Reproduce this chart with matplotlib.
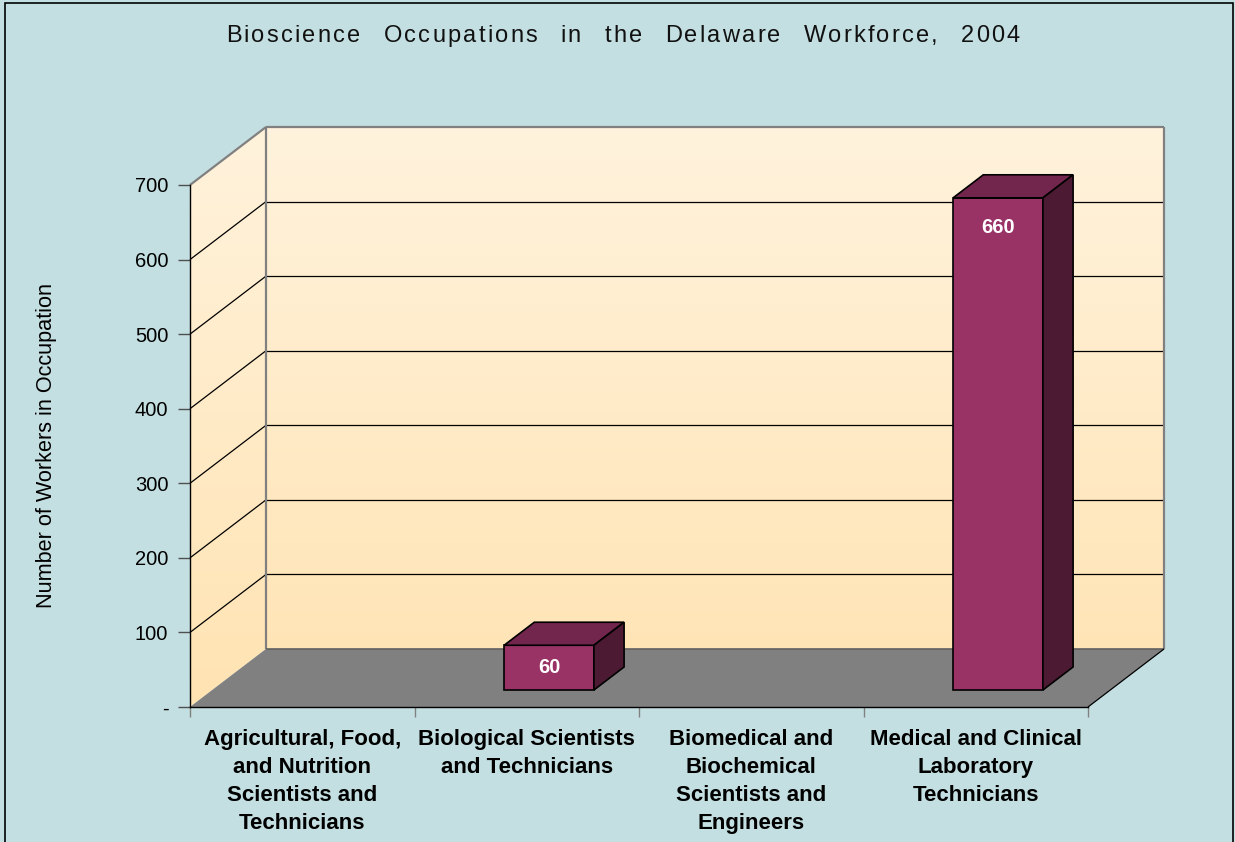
import numpy as np
import matplotlib
matplotlib.use("Agg")
import matplotlib.pyplot as plt
from matplotlib.font_manager import FontProperties
from matplotlib.patches import Polygon, Rectangle
from matplotlib.transforms import IdentityTransform, ScaledTranslation

# data
categories = [
    "Agricultural, Food,\nand Nutrition\nScientists and\nTechnicians",
    "Biological Scientists\nand Technicians",
    "Biomedical and\nBiochemical\nScientists and\nEngineers",
    "Medical and Clinical\nLaboratory\nTechnicians",
]
workers = [0, 60, 0, 660]
yticks = [0, 100, 200, 300, 400, 500, 600, 700]
ytick_labels = ["-", "100", "200", "300", "400", "500", "600", "700"]

title = "Bioscience Occupations in the Delaware Workforce, 2004"
ylabel = "Number of Workers in Occupation"

# styling
BG = "#C4DFE1"
WALL_TOP = np.array([255, 243, 221]) / 255
WALL_BOT = np.array([255, 227, 178]) / 255
FLOOR = "#808080"
EDGE_GRAY = "#808080"
BAR_FRONT = "#993366"
BAR_TOP = "#73264D"
BAR_SIDE = "#4D1A33"
DX, DY = 76, 58          # depth offset of the back wall in pixels
D0, D1 = 0.293, 0.69     # depth range of the bars
BW = 0.4                 # bar width (fraction of a category)
W, H = 1235, 842

plt.rcParams["font.family"] = ["Liberation Sans", "DejaVu Sans"]

fig = plt.figure(figsize=(W / 100, H / 100), dpi=100, facecolor=BG)
ax = fig.add_axes([190 / W, 135 / H, 898 / W, 522 / H])
ax.patch.set_visible(False)

# wall gradient image (clipped to the walls below)
n = len(categories)
top_y = max(yticks) + DY / (522 / max(yticks))
grad = np.linspace(0, 1, 256)[:, None, None]
img = WALL_TOP * (1 - grad) + WALL_BOT * grad
im = ax.imshow(img, extent=(0, n + 0.5, 0, top_y + 10), aspect="auto",
               origin="upper", interpolation="bilinear", zorder=0)

ax.set_xlim(0, n)
ax.set_ylim(0, max(yticks))


def P(x, v, d):
    # front-plane data point pushed back by depth fraction d
    return ax.transData.transform((x, v)) + d * np.array([DX, DY])


def poly(pts, **kw):
    p = Polygon(pts, closed=True, transform=IdentityTransform(), clip_on=False, **kw)
    ax.add_patch(p)
    return p


def line(a, b, **kw):
    ax.plot([a[0], b[0]], [a[1], b[1]], transform=IdentityTransform(),
            clip_on=False, solid_capstyle="butt", **kw)


vmax = max(yticks)
walls = Polygon([P(0, 0, 0), P(0, 0, 1), P(n, 0, 1), P(n, vmax, 1),
                 P(0, vmax, 1), P(0, vmax, 0)], closed=True,
                transform=IdentityTransform())
im.set_clip_box(fig.bbox)
im.set_clip_path(walls)

# gridlines on the back wall and the side wall
for v in yticks[1:-1]:
    line(P(0, v, 1), P(n, v, 1), color="black", lw=0.9, zorder=1)
    line(P(0, v, 0), P(0, v, 1), color="black", lw=0.9, zorder=1)

# wall outlines
line(P(0, vmax, 0), P(0, vmax, 1), color=EDGE_GRAY, lw=1.6, zorder=1.2)
line(P(0, vmax, 1), P(n, vmax, 1), color=EDGE_GRAY, lw=1.6, zorder=1.2)
line(P(0, 0, 1), P(0, vmax, 1), color=EDGE_GRAY, lw=1.6, zorder=1.2)
line(P(n, 0, 1), P(n, vmax, 1), color=EDGE_GRAY, lw=1.6, zorder=1.2)

# floor
poly([P(0, 0, 0), P(n, 0, 0), P(n, 0, 1), P(0, 0, 1)],
     facecolor=FLOOR, edgecolor="none", zorder=1.5)
line(P(0, 0, 1), P(n, 0, 1), color="#606060", lw=1.2, zorder=1.6)
line(P(n, 0, 0), P(n, 0, 1), color="black", lw=0.9, zorder=1.6)

# bars
for i, v in enumerate(workers):
    if v <= 0:
        continue
    x0, x1 = i + 0.5 - BW / 2, i + 0.5 + BW / 2
    kw = dict(edgecolor="black", lw=1.2, zorder=3, joinstyle="miter")
    poly([P(x0, 0, D0), P(x1, 0, D0), P(x1, v, D0), P(x0, v, D0)], facecolor=BAR_FRONT, **kw)
    poly([P(x0, v, D0), P(x1, v, D0), P(x1, v, D1), P(x0, v, D1)], facecolor=BAR_TOP, **kw)
    poly([P(x1, 0, D0), P(x1, 0, D1), P(x1, v, D1), P(x1, v, D0)], facecolor=BAR_SIDE, **kw)
    front = ax.transData + ScaledTranslation(D0 * DX / 100, D0 * DY / 100, fig.dpi_scale_trans)
    ax.text(i + 0.5, max(v - 40, v / 2), str(v), transform=front, ha="center",
            va="center", color="white", fontsize=14.5, fontweight="bold", zorder=4)

# axes styling
for s in ["top", "right"]:
    ax.spines[s].set_visible(False)
ax.spines["left"].set_linewidth(1.0)
ax.spines["bottom"].set_linewidth(1.0)
ax.spines["left"].set_zorder(2)
ax.spines["bottom"].set_zorder(2)

ax.set_yticks(yticks, ytick_labels)
ax.tick_params(axis="y", direction="out", length=8.6, width=1.0, color="#505050",
               labelsize=14.5, pad=7)
ax.set_xticks(range(n + 1), [""] * (n + 1))
ax.tick_params(axis="x", which="major", direction="out", length=7, width=1.0, color="#808080")
ax.set_xticks(np.arange(n) + 0.5, categories, minor=True)
ax.tick_params(axis="x", which="minor", length=0, pad=15.5, labelsize=16)
for lbl in ax.get_xticklabels(minor=True):
    lbl.set_fontweight("bold")
    lbl.set_linespacing(1.45)

fig.text(47 / W, 1 - 445 / H, ylabel, rotation=90, ha="center", va="center",
         fontsize=15.6)

# title: letter-spaced like the original, one glyph at a time
t_size = 17
renderer = fig.canvas.get_renderer()
prop = FontProperties(family="Liberation Sans", size=t_size)


def text_w(s):
    return renderer.get_text_width_height_descent(s, prop, ismath=False)[0]


adv = [text_w("H" + c + "H") - text_w("HH") for c in title]
t_width = 794
gap = 2.2
word_gap = (t_width - sum(adv) - gap * (len(title) - 1)) / title.count(" ")
x = 623 - t_width / 2
for c, a in zip(title, adv):
    if c != " ":
        fig.text(x / W, 1 - 42 / H, c, ha="left", va="baseline", fontproperties=prop,
                 color="#111111")
    else:
        x += word_gap
    x += a + gap

fig.add_artist(Rectangle((5 / W, -0.01), 1228 / W, 1.01 - 3 / H,
                         transform=fig.transFigure, fill=False, lw=1.2, ec="black"))

fig.savefig("out.png", dpi=100, facecolor=BG)
